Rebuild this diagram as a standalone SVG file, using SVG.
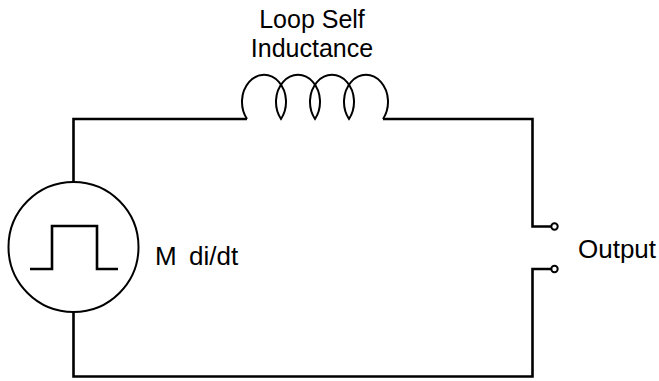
<svg xmlns="http://www.w3.org/2000/svg" width="659" height="381" viewBox="0 0 659 381">
<style>
.w{fill:none;stroke:#000;stroke-width:2.6;stroke-linejoin:miter}
.c{fill:none;stroke:#000;stroke-width:2}
.t{font-family:"Liberation Sans",Arial,sans-serif;font-size:26px;fill:#000}
.h{font-family:"Liberation Sans",Arial,sans-serif;font-size:25px;fill:#000}
.term{fill:#fff;stroke:#000;stroke-width:2}
</style>
<rect width="659" height="381" fill="#fff"/>
<g id="connectors">
<path class="w" d="M73.5,182 V119 H247"/>
<path class="w" d="M383,119 H532.5 V226.5 H551"/>
<path class="w" d="M551,269 H532.5 V376.5 H73.5 V312"/>
</g>
<g id="source">
<circle class="c" cx="73.5" cy="247" r="65"/>
<path class="w" d="M30,269 H52 V226 H97 V269 H118"/>
</g>
<g id="inductor">
<path class="c" d="M247,119 A22 27 0 1 1 281,119 A22 27 0 1 1 315,119 A22 27 0 1 1 349,119 A22 27 0 1 1 383,119"/>
</g>
<g id="label-inductance">
<text class="h" x="312" y="28" text-anchor="middle">Loop Self</text>
<text class="h" x="312" y="57" text-anchor="middle">Inductance</text>
</g>
<g id="label-source">
<text class="t" x="155" y="265">M</text>
<text class="t" x="189" y="265">di/dt</text>
</g>
<g id="output">
<circle class="term" cx="554.5" cy="226.5" r="3.2"/>
<circle class="term" cx="554.5" cy="269" r="3.2"/>
<text class="t" x="578" y="258">Output</text>
</g>
</svg>
